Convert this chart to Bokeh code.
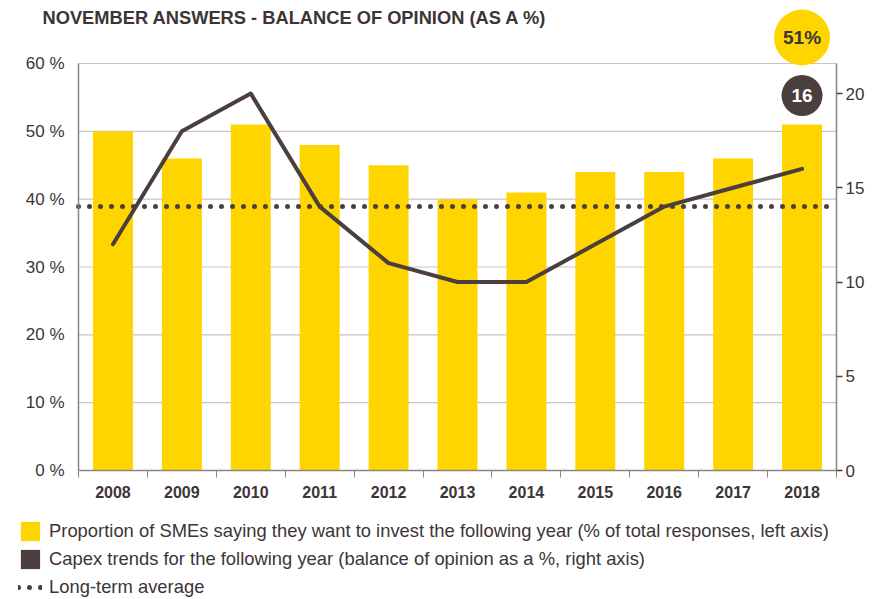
from bokeh.plotting import figure
from bokeh.models import (Range1d, LinearAxis, FixedTicker, PrintfTickFormatter,
                          Legend, LegendItem)
from bokeh.embed import file_html
from bokeh.resources import INLINE
from bokeh.core.properties import value

# ---------------- data ----------------
years = ["2008", "2009", "2010", "2011", "2012", "2013", "2014", "2015", "2016", "2017", "2018"]
invest_share = [50, 46, 51, 48, 45, 40, 41, 44, 44, 46, 51]      # left axis, %
capex_balance = [12, 18, 20, 14, 11, 10, 10, 12, 14, 15, 16]     # right axis
long_term_avg = 14                                                # right axis
left_ticks = [0, 10, 20, 30, 40, 50, 60]
right_ticks = [0, 5, 10, 15, 20]
title_text = "NOVEMBER ANSWERS - BALANCE OF OPINION (AS A %)"
legend_labels = [
    "Proportion of SMEs saying they want to invest the following year (% of total responses, left axis)",
    "Capex trends for the following year (balance of opinion as a %, right axis)",
    "Long-term average",
]

# ---------------- style / layout ----------------
YELLOW = "#FFD500"
BROWN = "#4a3f3d"
TEXT = "#3d3535"
AXIS = "#8c8383"
GRID = "#c9c3c3"
FONT = "Liberation Sans"
NAN = float("nan")

W, H = 879, 599
n = len(years)
centers = [i + 0.5 for i in range(n)]

# pixel anchors of the plotting area (frame covers the whole canvas, axes sit at fixed locations)
X0_PX, XN_PX = 78, 836      # x = 0 and x = n
Y0_PX, Y60_PX = 470, 63     # left axis 0 and 60
ux = (XN_PX - X0_PX) / n
uy = (Y0_PX - Y60_PX) / 60
ur = 18.85                  # px per unit on the right axis


def dx(px):
    return (px - X0_PX) / ux


def dy(py):
    return (Y0_PX - py) / uy


p = figure(width=W, height=H, output_backend="svg", toolbar_location=None,
           x_range=Range1d(dx(0), dx(W)), y_range=Range1d(dy(H), dy(0)),
           min_border=0)
p.outline_line_color = None
p.background_fill_color = "white"
p.border_fill_color = "white"
p.extra_y_ranges = {"right": Range1d(-(H - Y0_PX) / ur, Y0_PX / ur)}
p.grid.visible = False

# horizontal grid lines, only across the plotting area
gl = left_ticks[1:]
p.segment(x0=[0] * len(gl), x1=[n] * len(gl), y0=gl, y1=gl,
          line_color=GRID, line_width=1.2, level="underlay")

# bars
bars = p.vbar(x=centers, top=invest_share, width=0.58, fill_color=YELLOW, line_color=None)
# capex line
p.line(x=centers, y=capex_balance, y_range_name="right", line_color=BROWN,
       line_width=4, line_cap="round", line_join="round")
# long-term average (dotted)
avg = p.segment(x0=[0], x1=[n], y0=[long_term_avg], y1=[long_term_avg], y_range_name="right",
                line_color=BROWN, line_width=5, line_dash="0 11", line_cap="round")

# highlight bubbles for the latest year
last_x = centers[-1]
p.scatter(x=[last_x], y=[dy(37)], size=56, color=YELLOW, line_color=None)
p.text(x=[last_x], y=[dy(37)], text=[f"{invest_share[-1]}%"], text_align="center",
       text_baseline="middle", text_font=value(FONT), text_font_style="bold",
       text_font_size="19px", text_color=TEXT)
p.scatter(x=[last_x], y=[dy(95)], size=41, color=BROWN, line_color=None)
p.text(x=[last_x], y=[dy(95)], text=[str(capex_balance[-1])],
       text_align="center", text_baseline="middle", text_font=value(FONT),
       text_font_style="bold", text_font_size="19px", text_color="white")

# title
p.text(x=[dx(42)], y=[dy(17)], text=[title_text], text_baseline="middle",
       text_font=value(FONT), text_font_style="bold", text_font_size="18.3px",
       text_color=TEXT)

# x axis
xa = p.xaxis[0]
xa.fixed_location = 0
xa.bounds = (0, n)
xa.ticker = FixedTicker(ticks=centers, minor_ticks=list(range(n + 1)))
xa.major_label_overrides = {c: y for c, y in zip(centers, years)}
xa.major_tick_line_color = None
xa.major_tick_out = 6
xa.minor_tick_in = 0
xa.minor_tick_out = 7
xa.minor_tick_line_color = AXIS
xa.axis_line_color = AXIS
xa.axis_line_width = 1.5
xa.major_label_text_font = FONT
xa.major_label_text_font_style = "bold"
xa.major_label_text_font_size = "16px"
xa.major_label_text_color = TEXT
xa.major_label_standoff = 8

# left axis
ya = p.yaxis[0]
ya.fixed_location = 0
ya.ticker = FixedTicker(ticks=left_ticks)
ya.formatter = PrintfTickFormatter(format="%d %%")
ya.bounds = (0, 60)
ya.major_tick_out = 0
ya.major_tick_in = 0
ya.minor_tick_line_color = None
ya.axis_line_color = AXIS
ya.axis_line_width = 1.5
ya.major_label_text_font = FONT
ya.major_label_text_font_size = "17px"
ya.major_label_text_color = TEXT
ya.major_label_standoff = 14

# right axis
ra = LinearAxis(y_range_name="right", ticker=FixedTicker(ticks=right_ticks),
                bounds=(0, (Y0_PX - Y60_PX) / ur), fixed_location=n)
ra.major_tick_out = 6
ra.major_tick_in = 0
ra.major_tick_line_color = BROWN
ra.major_tick_line_width = 1.5
ra.minor_tick_line_color = None
ra.axis_line_color = AXIS
ra.axis_line_width = 1.5
ra.major_label_text_font = FONT
ra.major_label_text_font_size = "17px"
ra.major_label_text_color = TEXT
ra.major_label_standoff = 3
p.add_layout(ra, "right")

# legend: the square key for the capex series uses a key-only renderer (no drawable point)
capex_key = p.vbar(x=[NAN], top=[NAN], width=0.5, fill_color=BROWN, line_color=None)
legend = Legend(items=[LegendItem(label=legend_labels[0], renderers=[bars]),
                       LegendItem(label=legend_labels[1], renderers=[capex_key]),
                       LegendItem(label=legend_labels[2], renderers=[avg])],
                location=(18, 0), orientation="vertical",
                glyph_width=24, glyph_height=24, label_height=19, label_standoff=7,
                spacing=4, padding=0, margin=0,
                label_text_font=FONT, label_text_font_size="18.4px", label_text_color=TEXT,
                background_fill_alpha=0, border_line_alpha=0)
p.add_layout(legend)

open("out.html", "w").write(file_html(p, INLINE))
